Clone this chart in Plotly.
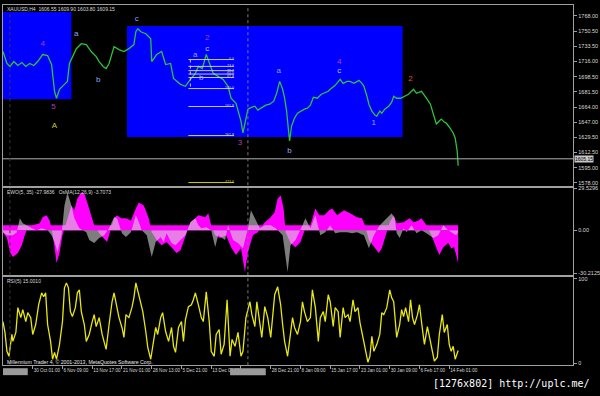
import plotly.graph_objects as go

# ---------------- price panel : XAUUSD H4 close ----------------
price_bar = [0, 4, 7, 11, 15, 19, 23, 27, 31, 35, 40, 45, 49, 52, 54, 57, 62, 65, 67, 69,
             74, 79, 84, 89, 94, 97, 101, 104, 107, 112, 117, 122, 127, 132, 134, 136, 139, 144, 149, 150,
             155, 160, 164, 169, 172, 179, 184, 189, 194, 197, 201, 205, 209, 212, 217, 222, 227, 230, 235, 240,
             242, 245, 247, 251, 254, 257, 260, 265, 269, 273, 276, 279, 282, 284, 286, 289, 291, 294, 297, 300,
             304, 307, 310, 313, 317, 321, 324, 328, 330, 335, 340, 343, 347, 350, 354, 359, 362, 364, 367, 369,
             372, 375, 377, 380, 382, 385, 389, 392, 394, 397, 401, 405, 409, 414, 417, 422, 425, 427, 431, 434,
             437, 440, 442, 445, 447, 450, 454, 456, 458, 459]
price_close = [1727.4, 1713.8, 1710.4, 1716.0, 1711.5, 1714.9, 1710.4, 1713.8, 1711.5, 1716.0,
               1724.0, 1722.8, 1712.6, 1682.1, 1674.2, 1684.4, 1690.0, 1693.4, 1713.8, 1718.3,
               1730.7, 1736.4, 1735.3, 1727.4, 1721.7, 1716.0, 1710.4, 1708.1, 1713.8, 1733.0,
               1729.6, 1727.4, 1730.7, 1735.3, 1750.0, 1753.4, 1750.0, 1747.7, 1742.1, 1716.0,
               1724.0, 1727.4, 1712.6, 1713.8, 1696.8, 1690.0, 1687.8, 1695.7, 1702.5, 1710.4,
               1708.1, 1724.0, 1712.6, 1702.5, 1699.1, 1695.7, 1687.8, 1674.2, 1668.5, 1648.2,
               1634.6, 1653.8, 1661.8, 1664.0, 1665.1, 1660.6, 1662.9, 1666.3, 1667.4, 1670.8,
               1679.8, 1693.4, 1684.4, 1674.2, 1659.5, 1625.5, 1642.5, 1651.6, 1657.2, 1659.5,
               1661.8, 1662.9, 1666.3, 1675.3, 1674.2, 1678.7, 1679.8, 1682.1, 1684.4, 1688.9,
               1695.7, 1691.2, 1693.4, 1693.4, 1691.2, 1694.6, 1691.2, 1687.8, 1676.5, 1667.4,
               1659.5, 1655.0, 1653.8, 1659.5, 1657.2, 1661.8, 1665.1, 1669.7, 1676.5, 1674.2,
               1674.2, 1676.5, 1678.7, 1684.4, 1679.8, 1682.1, 1676.5, 1674.2, 1667.4, 1656.1,
               1644.8, 1648.2, 1650.4, 1647.0, 1645.9, 1641.4, 1634.6, 1628.9, 1614.3, 1597.3]
bid_price = 1605.15
price_ticks = [1768.00, 1750.50, 1733.50, 1716.00, 1698.50, 1681.50,
               1664.00, 1647.00, 1629.50, 1612.50, 1595.00, 1578.00]

# blue rectangles (bar from, bar to, top price, bottom price)
box_bar0 = [0, 125]
box_bar1 = [69, 403]
box_top = [1772.6, 1756.5]
box_bottom = [1673.1, 1630.1]

# fibonacci retracement object
fib_levels = [0.0, 23.6, 38.2, 50.0, 61.8, 100.0, 161.8, 261.8, 423.6]
fib_high = 1718.3
fib_low = 1685.2
fib_bar0 = 187
fib_bar1 = 233

# wave labels
wave_bar = [40, 51, 52, 74, 96, 135, 194, 206, 206, 200, 239, 278, 289, 339, 339, 374, 411]
wave_price = [1736.4, 1664.0, 1642.5, 1747.7, 1694.6, 1764.7, 1724.0, 1743.2, 1730.7, 1696.8,
              1623.3, 1704.7, 1614.3, 1716.0, 1704.7, 1645.9, 1695.7]
wave_text = ["4", "5", "A", "a", "b", "c", "a", "2", "c", "b", "3", "a", "b", "4", "c", "1", "2"]
wave_color = ["#b43cb4", "#b43cb4", "#c8c832", "#8ea6ff", "#8ea6ff", "#8ea6ff", "#8ea6ff", "#b43cb4",
              "#b8c4ff", "#8ea6ff", "#b43cb4", "#8ea6ff", "#8ea6ff", "#b43cb4", "#b8c4ff", "#8ea6ff",
              "#d8542c"]

# ---------------- EWO / OsMA panel ----------------
ewo_bar = [0, 4, 7, 10, 15, 19, 22, 25, 30, 37, 40, 44, 47, 49, 52, 54, 57, 60, 64, 69,
           72, 75, 79, 82, 85, 89, 92, 97, 102, 105, 109, 112, 115, 119, 124, 129, 134, 137, 142, 147,
           150, 155, 160, 165, 170, 175, 179, 182, 185, 189, 194, 197, 204, 207, 210, 214, 219, 225, 230, 235,
           240, 244, 247, 252, 257, 264, 269, 274, 277, 280, 283, 285, 290, 295, 300, 305, 310, 315, 319, 324,
           329, 332, 337, 344, 350, 357, 362, 365, 369, 374, 379, 382, 385, 390, 394, 397, 404, 410, 414, 419,
           422, 427, 432, 437, 440, 444, 449, 452, 455, 459]
ewo_val = [-1.3, -5.5, -15.4, -18.9, -16.1, -10.5, -3.4, 2.2, 3.6, 5.0, 9.2, 10.6, 7.0, 1.5, -11.9,
           -23.1, -16.1, -3.4, 5.7, 17.6, 14.1, 22.5, 26.7, 26.0, 19.7, 10.6, 3.6, -2.0, -5.5, -8.3,
           1.5, 8.5, 10.6, 8.5, 8.5, 7.0, 15.5, 19.7, 17.6, 8.5, -1.3, -6.9, -10.5, -8.3, -11.9,
           -16.1, -14.0, -8.3, -3.4, 5.7, 8.5, 10.6, 9.2, 12.0, 3.6, -3.4, -5.5, -3.4, -11.9, -17.5,
           -12.6, -29.4, -15.4, -3.4, -1.3, 5.7, 8.5, 12.7, 22.5, 24.6, 15.5, -1.3, -9.0, -11.9, -8.3,
           1.5, 3.6, 15.5, 10.6, 10.6, 14.1, 15.5, 10.6, 14.1, 12.0, 9.2, 8.5, 3.6, -6.9, -11.9,
           -16.1, -12.6, -5.5, 5.7, 10.6, 5.0, 5.7, 8.5, 5.7, 7.0, 8.5, 3.6, -3.4, -12.6, -17.5,
           -11.9, -9.0, -12.6, -11.9, -23.1]
osma_bar = [0, 4, 10, 14, 17, 20, 24, 29, 34, 39, 45, 49, 52, 55, 59, 62, 65, 69, 72, 77,
            84, 87, 92, 97, 102, 107, 112, 115, 120, 124, 129, 134, 137, 140, 145, 150, 154, 159, 162, 165,
            170, 174, 179, 184, 189, 194, 197, 200, 205, 210, 214, 217, 224, 227, 232, 237, 242, 247, 250, 254,
            259, 264, 270, 275, 282, 287, 290, 295, 299, 302, 305, 310, 315, 320, 325, 330, 335, 340, 347, 352,
            357, 364, 369, 374, 380, 387, 392, 395, 397, 400, 404, 407, 412, 417, 422, 427, 434, 439, 444, 449,
            454, 457, 459]
osma_val = [-1.3, -3.4, -3.4, -1.3, 8.5, 5.0, 3.6, 1.5, 0.1, 1.5, 0.1, -3.4, -8.3, -15.4, -3.4,
            17.6, 26.7, 17.6, 8.5, 1.5, -1.3, -6.9, -9.0, -5.5, -3.4, 1.5, 9.2, 8.5, -2.0, -4.8,
            -1.3, 10.6, 5.7, 0.1, -3.4, -18.9, -8.3, -4.8, -8.3, -2.0, -9.0, -10.5, -6.9, -3.4, 5.7,
            8.5, 3.6, 1.5, 2.2, 0.1, -11.9, -3.4, -6.9, 3.6, -6.9, -9.0, -12.6, 1.5, 14.1, 8.5,
            1.5, 3.6, 3.6, 1.5, -3.4, -29.4, -10.5, -6.9, -1.3, 3.6, 8.5, 1.5, 10.6, -3.4, -1.3,
            3.6, -2.0, -1.3, -1.3, -2.0, -1.3, -3.4, -12.6, -3.4, 3.6, 8.5, 12.0, 8.5, -2.0, -5.5,
            1.5, -1.3, 3.6, -2.0, 0.1, -2.0, -5.5, -3.4, 3.6, 0.1, -2.0, -3.4, -1.3]
ewo_ticks = [29.5296, 0.0, -30.2125]
ewo_tick_text = ["29.5296", "0.00", "-30.2125"]

# ---------------- RSI(5) panel ----------------
rsi_bar = [0, 2, 4, 6, 9, 10, 13, 15, 18, 20, 23, 25, 28, 30, 33, 36, 39, 41, 43, 45,
           48, 50, 52, 54, 57, 60, 62, 64, 66, 68, 70, 73, 75, 77, 79, 82, 84, 87, 90, 92,
           94, 97, 100, 102, 104, 107, 110, 112, 114, 117, 120, 122, 124, 127, 130, 132, 134, 136, 139, 141,
           144, 146, 149, 151, 154, 156, 159, 161, 164, 167, 170, 172, 174, 177, 180, 182, 184, 187, 190, 192,
           194, 197, 200, 202, 205, 208, 210, 213, 215, 218, 220, 223, 226, 229, 231, 234, 237, 240, 242, 245,
           249, 251, 254, 256, 259, 261, 264, 267, 270, 272, 274, 277, 280, 282, 284, 287, 290, 292, 294, 297,
           300, 302, 304, 307, 310, 312, 315, 318, 320, 323, 325, 328, 330, 333, 335, 338, 340, 343, 345, 348,
           350, 353, 355, 358, 360, 363, 365, 368, 370, 372, 374, 377, 380, 382, 384, 387, 390, 392, 394, 397,
           400, 402, 404, 406, 409, 411, 413, 415, 418, 420, 423, 425, 428, 430, 433, 435, 438, 440, 443, 445,
           448, 450, 452, 454, 456, 459]
rsi_val = [49.4, 36.5, 14.1, 8.2, 34.1, 25.9, 36.5, 65.9, 54.1, 63.5, 49.4, 60.0, 54.1, 34.1, 45.9,
           69.4, 83.5, 78.8, 83.5, 45.9, 25.9, 4.7, 12.9, 4.7, 22.4, 49.4, 89.4, 95.3, 89.4, 61.2,
           55.3, 65.9, 83.5, 87.1, 61.2, 45.9, 25.9, 34.1, 49.4, 57.6, 43.5, 54.1, 34.1, 25.9, 16.5,
           45.9, 72.9, 83.5, 72.9, 54.1, 42.4, 30.6, 57.6, 54.1, 65.9, 77.6, 95.3, 84.7, 71.8, 61.2,
           37.6, 18.8, 4.7, 20.0, 42.4, 34.1, 54.1, 60.0, 37.6, 25.9, 42.4, 20.0, 12.9, 42.4, 49.4,
           25.9, 51.8, 67.1, 69.4, 75.3, 83.5, 69.4, 54.1, 49.4, 84.7, 49.4, 14.1, 8.2, 34.1, 40.0,
           10.6, 22.4, 75.3, 8.2, 28.2, 20.0, 36.5, 8.2, 14.1, 54.1, 72.9, 57.6, 43.5, 72.9, 45.9,
           30.6, 67.1, 54.1, 30.6, 57.6, 81.2, 90.6, 69.4, 45.9, 25.9, 8.2, 37.6, 54.1, 42.4, 34.1,
           49.4, 72.9, 61.2, 49.4, 54.1, 87.1, 65.9, 25.9, 54.1, 61.2, 49.4, 81.2, 72.9, 43.5, 65.9,
           61.2, 30.6, 65.9, 54.1, 57.6, 49.4, 75.3, 61.2, 65.9, 48.2, 30.6, 18.8, 1.2, 8.2, 31.8,
           14.1, 22.4, 34.1, 60.0, 57.6, 65.9, 87.1, 77.6, 72.9, 30.6, 45.9, 63.5, 55.3, 65.9, 49.4,
           75.3, 54.1, 45.9, 57.6, 69.4, 40.0, 22.4, 43.5, 31.8, 14.1, 2.4, 7.1, 34.1, 57.6, 36.5,
           45.9, 22.4, 14.1, 20.0, 4.7, 15.0]
rsi_ticks = [100, 0]

# ---------------- time axis ----------------
time_ticks = [30, 60, 90, 120, 150, 180, 210, 240, 270, 300, 330, 360, 390, 420, 450]
time_labels = ["30 Oct 01:00", "6 Nov 09:00", "13 Nov 17:00", "21 Nov 01:00", "28 Nov 13:00",
               "5 Dec 21:00", "13 Dec 05:00", "", "28 Dec 21:00", "8 Jan 09:00", "15 Jan 17:00",
               "23 Jan 01:00", "30 Jan 09:00", "6 Feb 17:00", "14 Feb 01:00"]
cursor_bar = 247

# ---------------- layout constants ----------------
W, H = 600, 396
def py(px):
    return 1 - px / H
X_DOM = [3 / W, 578 / W]
D_MAIN = [py(185), py(3)]
D_EWO = [py(275), py(187)]
D_RSI = [py(366), py(277)]
FONT = "Liberation Sans, Arial, sans-serif"
BORDER = "#a0a0a0"
TXT = "#d8d8d8"

fig = go.Figure()

fig.add_trace(go.Scatter(x=price_bar, y=price_close, mode="lines", xaxis="x", yaxis="y",
                         line=dict(color="#30c23a", width=1.3), hoverinfo="skip"))

# fib lines + labels
fib_prices = [fib_high - (fib_high - fib_low) * lv / 100 for lv in fib_levels]
for lv, p in zip(fib_levels, fib_prices):
    fig.add_shape(type="line", xref="x", yref="y", x0=fib_bar0, x1=fib_bar1, y0=p, y1=p,
                  line=dict(color="#d0d000" if lv > 400 else "#c8c8c8", width=1))
fig.add_shape(type="line", xref="x", yref="y", x0=fib_bar0 + 2, x1=fib_bar0 + 2,
              y0=fib_prices[0], y1=fib_prices[5], line=dict(color="#c8c8c8", width=1, dash="dot"))
fig.add_trace(go.Scatter(x=[fib_bar1] * len(fib_levels), y=fib_prices, mode="text",
                         text=["%.1f" % lv for lv in fib_levels], textposition="middle left",
                         textfont=dict(size=3.6, family=FONT,
                                       color=["#d0d000" if lv > 400 else "#d0d0d0" for lv in fib_levels]),
                         xaxis="x", yaxis="y", hoverinfo="skip"))

fig.add_trace(go.Scatter(x=wave_bar, y=wave_price, mode="text", text=wave_text,
                         textfont=dict(size=8, family=FONT, color=wave_color),
                         xaxis="x", yaxis="y", hoverinfo="skip"))

# EWO / OsMA
fig.add_trace(go.Scatter(x=ewo_bar, y=ewo_val, mode="lines", fill="tozeroy", xaxis="x2", yaxis="y2",
                         line=dict(color="#ff00ff", width=0), fillcolor="#ff00ff", hoverinfo="skip"))
fig.add_trace(go.Scatter(x=osma_bar, y=osma_val, mode="lines", fill="tozeroy", xaxis="x2", yaxis="y2",
                         line=dict(color="rgba(0,0,0,0)", width=0), fillcolor="rgba(215,215,215,0.58)",
                         hoverinfo="skip"))

# RSI
fig.add_trace(go.Scatter(x=rsi_bar, y=rsi_val, mode="lines", xaxis="x3", yaxis="y3",
                         line=dict(color="#e8e810", width=1.3), hoverinfo="skip"))

# blue rectangles
for b0, b1, t, bt in zip(box_bar0, box_bar1, box_top, box_bottom):
    fig.add_shape(type="rect", xref="x", yref="y", x0=b0, x1=b1, y0=bt, y1=t, layer="below",
                  fillcolor="#0000ff", line=dict(width=0))

# magenta zero band of the EWO histogram
fig.add_shape(type="rect", xref="x2", yref="y2", x0=ewo_bar[0], x1=ewo_bar[-1], y0=0, y1=3.6,
              layer="below", fillcolor="#ff00ff", line=dict(width=0))

# bid line
fig.add_shape(type="line", xref="x domain", yref="y", x0=0, x1=1, y0=bid_price, y1=bid_price,
              line=dict(color="#b0b0b0", width=1))

# crosshair / period separators
fig.add_shape(type="line", xref="x", yref="paper", x0=cursor_bar, x1=cursor_bar, y0=D_RSI[0], y1=D_MAIN[1],
              line=dict(color="#7a7a7a", width=1, dash="dot"))
fig.add_shape(type="line", xref="x", yref="paper", x0=7, x1=7, y0=D_RSI[0], y1=D_MAIN[1],
              line=dict(color="#3a3a3a", width=1, dash="dot"))

# grey boxes on the time scale
fig.add_shape(type="rect", xref="paper", yref="paper", x0=3 / W, x1=28 / W, y0=py(376), y1=py(369),
              fillcolor="#9a9a9a", line=dict(width=0))
fig.add_shape(type="rect", xref="paper", yref="paper", x0=232 / W, x1=268 / W, y0=py(376), y1=py(369),
              fillcolor="#9a9a9a", line=dict(width=0))

ann = []
def txt(x, y, s, size=5, color=TXT, xanchor="left", family=FONT, **kw):
    ann.append(dict(x=x, y=y, xref="paper", yref="paper", text=s, showarrow=False, xanchor=xanchor,
                    yanchor="middle", font=dict(size=size, color=color, family=family), **kw))

txt(5 / W, py(7), "XAUUSD,H4  1606.55 1609.90 1603.80 1609.15")
txt(5 / W, py(191), "EWO(5, 35) -27.9836   OsMA(12,26,9) -3.7073")
txt(5 / W, py(281), "RSI(5) 15.0010")
txt(5 / W, py(363), "Millennium Trader 4, © 2001-2013, MetaQuotes Software Corp.", size=5.2, color="#e8e8e8")
txt(597 / W, py(384), "[1276x802] http://uplc.me/", size=10, color="#ffffff", xanchor="right",
    family="DejaVu Sans Mono, monospace")
ann.append(dict(x=579 / W, y=bid_price, xref="paper", yref="y", text="1605.15", showarrow=False,
                xanchor="left", yanchor="middle", bgcolor="#c8c8c8", borderpad=0,
                font=dict(size=5, color="#000000", family=FONT)))

axis_common = dict(showgrid=False, zeroline=False, showline=True, mirror=True, linecolor=BORDER,
                   linewidth=1, fixedrange=True)
tickfont = dict(size=5.5, color=TXT, family=FONT)

fig.update_layout(
    width=W, height=H, autosize=False,
    margin=dict(l=0, r=0, t=0, b=0),
    paper_bgcolor="#000000", plot_bgcolor="#000000",
    showlegend=False,
    annotations=ann,
    xaxis=dict(domain=X_DOM, range=[0, 575], anchor="y", showticklabels=False, ticks="", **axis_common),
    xaxis2=dict(domain=X_DOM, range=[0, 575], anchor="y2", showticklabels=False, ticks="", **axis_common),
    xaxis3=dict(domain=X_DOM, range=[0, 575], anchor="y3", tickvals=time_ticks, ticktext=time_labels,
                ticks="outside", ticklen=3, tickcolor=BORDER, ticklabelposition="outside right",
                tickangle=0, ticklabelstandoff=0,
                tickfont=dict(size=4.6, color=TXT, family=FONT), **axis_common),
    yaxis=dict(domain=D_MAIN, range=[1574.6, 1780.5], anchor="x", side="right",
               tickvals=price_ticks, ticktext=["%.2f" % v for v in price_ticks],
               ticks="outside", ticklen=3, tickcolor=BORDER, tickfont=tickfont, **axis_common),
    yaxis2=dict(domain=D_EWO, range=[-31.5, 30.2], anchor="x2", side="right",
                tickvals=ewo_ticks, ticktext=ewo_tick_text,
                ticks="outside", ticklen=3, tickcolor=BORDER, tickfont=tickfont, **axis_common),
    yaxis3=dict(domain=D_RSI, range=[-2.4, 102.4], anchor="x3", side="right",
                tickvals=rsi_ticks, ticktext=[str(v) for v in rsi_ticks],
                ticks="outside", ticklen=3, tickcolor=BORDER, tickfont=tickfont, **axis_common),
)

fig.write_html("out.html")
